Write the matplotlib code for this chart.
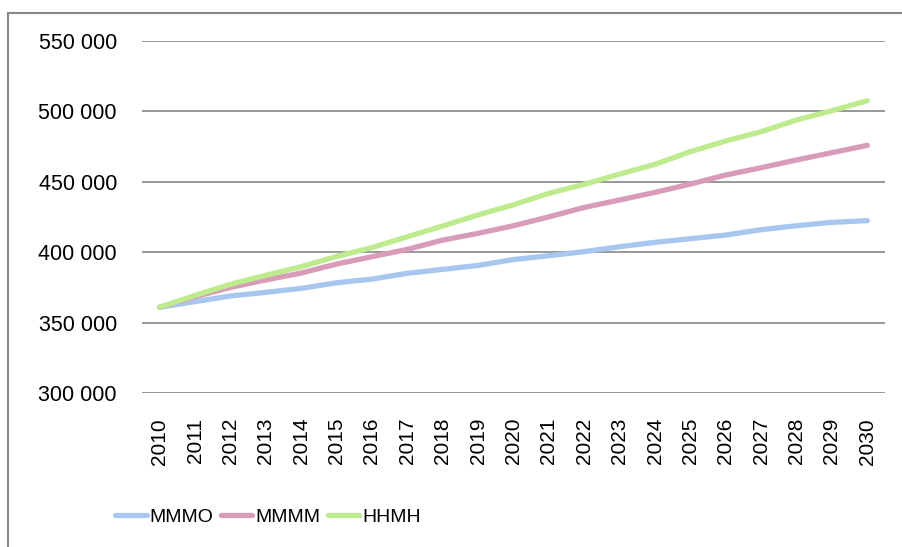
import matplotlib
matplotlib.use("Agg")
import matplotlib.pyplot as plt
from matplotlib.ticker import FuncFormatter
from matplotlib.patches import Rectangle

plt.rcParams['font.family'] = ['Liberation Sans', 'DejaVu Sans']

years = [str(y) for y in range(2010, 2031)]
mmmo = [360900, 364900, 368900, 371500, 374300, 378300, 380900, 385000, 387800, 390600,
        394800, 397500, 400400, 403900, 407000, 409600, 412200, 416000, 418800, 421200, 422400]
mmmm = [360900, 368400, 375000, 380300, 385200, 391600, 396800, 402000, 408600, 413400,
        418800, 425100, 431800, 437100, 442500, 448400, 454800, 460000, 465500, 470700, 475900]
hhmh = [360900, 369300, 377200, 383600, 389700, 397000, 403300, 411000, 418600, 426500,
        433700, 441800, 448200, 455500, 462400, 471400, 479000, 485600, 493900, 500500, 507600]
series_names = ['MMMO', 'MMMM', 'HHMH']
colors = ['#A7C7F0', '#D89CB9', '#BDEB8D']

fig = plt.figure(figsize=(9.02, 5.47), dpi=100)
ax = fig.add_axes([142/902, 1 - 393/547, (885 - 142)/902, (393 - 41)/547])

x = list(range(len(years)))
for vals, name, c in zip([mmmo, mmmm, hhmh], series_names, colors):
    ax.plot(x, vals, color=c, lw=3.8, solid_capstyle='round', label=name)

ax.set_xlim(-0.5, len(years) - 0.5)
ax.set_ylim(300000, 550000)
ax.set_yticks(range(300000, 550001, 50000))
ax.yaxis.set_major_formatter(FuncFormatter(lambda v, p: f"{int(v):,}".replace(',', ' ')))
ax.set_xticks(x)
ax.set_xticklabels(years, rotation=90)
ax.tick_params(axis='y', length=0, pad=18, labelsize=15.5)
ax.tick_params(axis='x', length=0, pad=18, labelsize=15)
ax.grid(axis='y', color='#868686', lw=1.2)
ax.set_axisbelow(True)
for s in ax.spines.values():
    s.set_visible(False)

# outer chart border
fig.patches.append(Rectangle((8/902, -0.1), 1.2, 1 - 13/547 + 0.1, transform=fig.transFigure,
                             fill=False, edgecolor='#868686', lw=1.5))

fig.legend(loc='center', bbox_to_anchor=(268/902, 30/547), ncol=3, frameon=False,
           fontsize=14, handlelength=1.6, handletextpad=0.15, columnspacing=0.4)

fig.savefig('out.png', dpi=100)
